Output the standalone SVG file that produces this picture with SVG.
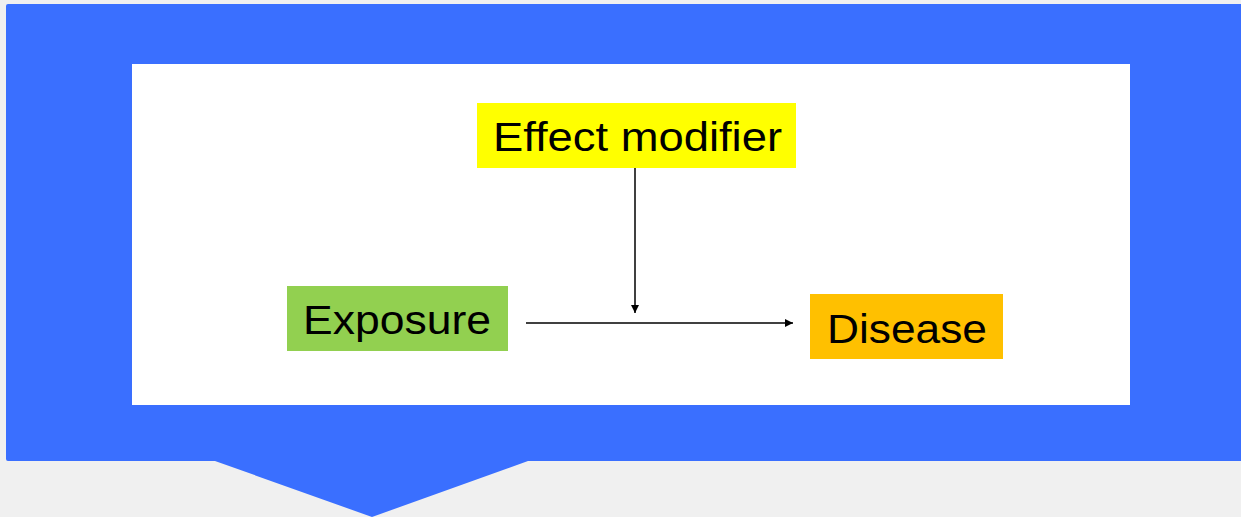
<svg xmlns="http://www.w3.org/2000/svg" width="1241" height="517" viewBox="0 0 1241 517">
  <style>
    .lbl { font-family: "Liberation Sans", Arial, sans-serif; font-size: 41px; fill: #000; }
    .conn { stroke: #000; stroke-width: 1.5; fill: none; }
  </style>
  <defs>
    <marker id="ah" viewBox="0 0 10 10" refX="10" refY="5" markerWidth="10" markerHeight="8" markerUnits="userSpaceOnUse" orient="auto">
      <path d="M0,0 L10,5 L0,10 z" fill="#000"/>
    </marker>
  </defs>
  <rect width="1241" height="517" fill="#f0f0f0"/>
  <g id="callout">
    <path d="M8,4 H1241 V461 H528 L372,517 L215,461 H8 Q6,461 6,459 V6 Q6,4 8,4 Z" fill="#3a6fff"/>
    <rect x="132" y="64" width="998" height="341" fill="#ffffff"/>
  </g>
  <g id="connectors">
    <line class="conn" x1="526" y1="323" x2="793" y2="323" marker-end="url(#ah)"/>
    <line class="conn" x1="635" y1="160" x2="635" y2="313" marker-end="url(#ah)"/>
  </g>
  <g id="effect-modifier">
    <rect x="477" y="103" width="319" height="65" fill="#ffff00"/>
    <text class="lbl" x="493" y="151" textLength="289" lengthAdjust="spacingAndGlyphs">Effect modifier</text>
  </g>
  <g id="exposure">
    <rect x="287" y="286" width="221" height="65" fill="#92d050"/>
    <text class="lbl" x="303" y="334" textLength="188" lengthAdjust="spacingAndGlyphs">Exposure</text>
  </g>
  <g id="disease">
    <rect x="810" y="294" width="193" height="65" fill="#ffc000"/>
    <text class="lbl" x="827" y="343" textLength="160" lengthAdjust="spacingAndGlyphs">Disease</text>
  </g>
</svg>
